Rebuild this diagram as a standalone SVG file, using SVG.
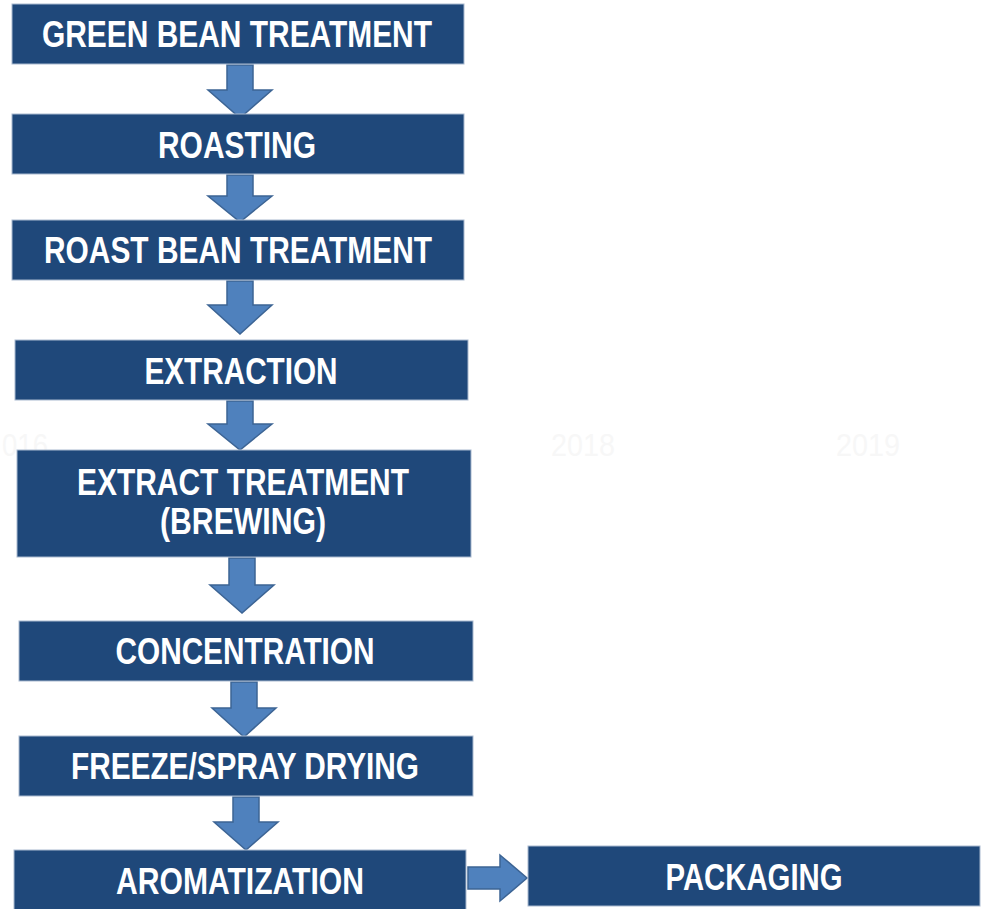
<svg xmlns="http://www.w3.org/2000/svg" width="982" height="909" viewBox="0 0 982 909">
<style>
.box{fill:#1f487a;stroke:#a9b9cf;stroke-width:1}
.lbl{font-family:"Liberation Sans",Arial,sans-serif;font-weight:bold;font-size:37px;fill:#ffffff;text-anchor:middle}
.arr{fill:#4f81bd;stroke:#3c6494;stroke-width:1.5;stroke-linejoin:miter}
.faint{font-family:"Liberation Sans",Arial,sans-serif;font-size:32px;fill:#f7f7f7;text-anchor:middle}
</style>
<rect width="982" height="909" fill="#ffffff"/>
<g id="background-text">
<text class="faint" x="25" y="456" textLength="46" lengthAdjust="spacingAndGlyphs">016</text>
<text class="faint" x="583" y="456" textLength="64" lengthAdjust="spacingAndGlyphs">2018</text>
<text class="faint" x="868" y="456" textLength="64" lengthAdjust="spacingAndGlyphs">2019</text>
</g>
<g id="connectors">
<polygon class="arr" points="227,65 253,65 253,90 272,90 240,118 208,90 227,90"/>
<polygon class="arr" points="227,175 253,175 253,196 272,196 240,222 208,196 227,196"/>
<polygon class="arr" points="227,281 253,281 253,305 272,305 240,334 208,305 227,305"/>
<polygon class="arr" points="227,401 253,401 253,424 272,424 240,450 208,424 227,424"/>
<polygon class="arr" points="229,558 255,558 255,585 274,585 242,613 210,585 229,585"/>
<polygon class="arr" points="231,682 257,682 257,708 276,708 244,737 212,708 231,708"/>
<polygon class="arr" points="233,797 259,797 259,822 278,822 246,850 214,822 233,822"/>
<polygon class="arr" points="468,867 500,867 500,855 527,878 500,901 500,889 468,889"/>
</g>
<g id="n1"><rect class="box" x="12" y="4" width="452" height="60"/><text class="lbl" x="237" y="47" textLength="390" lengthAdjust="spacingAndGlyphs">GREEN BEAN TREATMENT</text></g>
<g id="n2"><rect class="box" x="12" y="114" width="452" height="60"/><text class="lbl" x="237" y="158" textLength="158" lengthAdjust="spacingAndGlyphs">ROASTING</text></g>
<g id="n3"><rect class="box" x="12" y="220" width="452" height="60"/><text class="lbl" x="238" y="263" textLength="388" lengthAdjust="spacingAndGlyphs">ROAST BEAN TREATMENT</text></g>
<g id="n4"><rect class="box" x="15" y="340" width="453" height="60"/><text class="lbl" x="241" y="384" textLength="193" lengthAdjust="spacingAndGlyphs">EXTRACTION</text></g>
<g id="n5"><rect class="box" x="17" y="450" width="454" height="107"/><text class="lbl" x="243" y="495" textLength="332" lengthAdjust="spacingAndGlyphs">EXTRACT TREATMENT</text><text class="lbl" x="243" y="534" textLength="166" lengthAdjust="spacingAndGlyphs">(BREWING)</text></g>
<g id="n6"><rect class="box" x="19" y="621" width="454" height="60"/><text class="lbl" x="245" y="664" textLength="259" lengthAdjust="spacingAndGlyphs">CONCENTRATION</text></g>
<g id="n7"><rect class="box" x="19" y="736" width="454" height="60"/><text class="lbl" x="245" y="779" textLength="348" lengthAdjust="spacingAndGlyphs">FREEZE/SPRAY DRYING</text></g>
<g id="n8"><rect class="box" x="14" y="850" width="452" height="62"/><text class="lbl" x="240" y="894" textLength="248" lengthAdjust="spacingAndGlyphs">AROMATIZATION</text></g>
<g id="n9"><rect class="box" x="528" y="846" width="452" height="60"/><text class="lbl" x="754" y="890" textLength="177" lengthAdjust="spacingAndGlyphs">PACKAGING</text></g>
</svg>
